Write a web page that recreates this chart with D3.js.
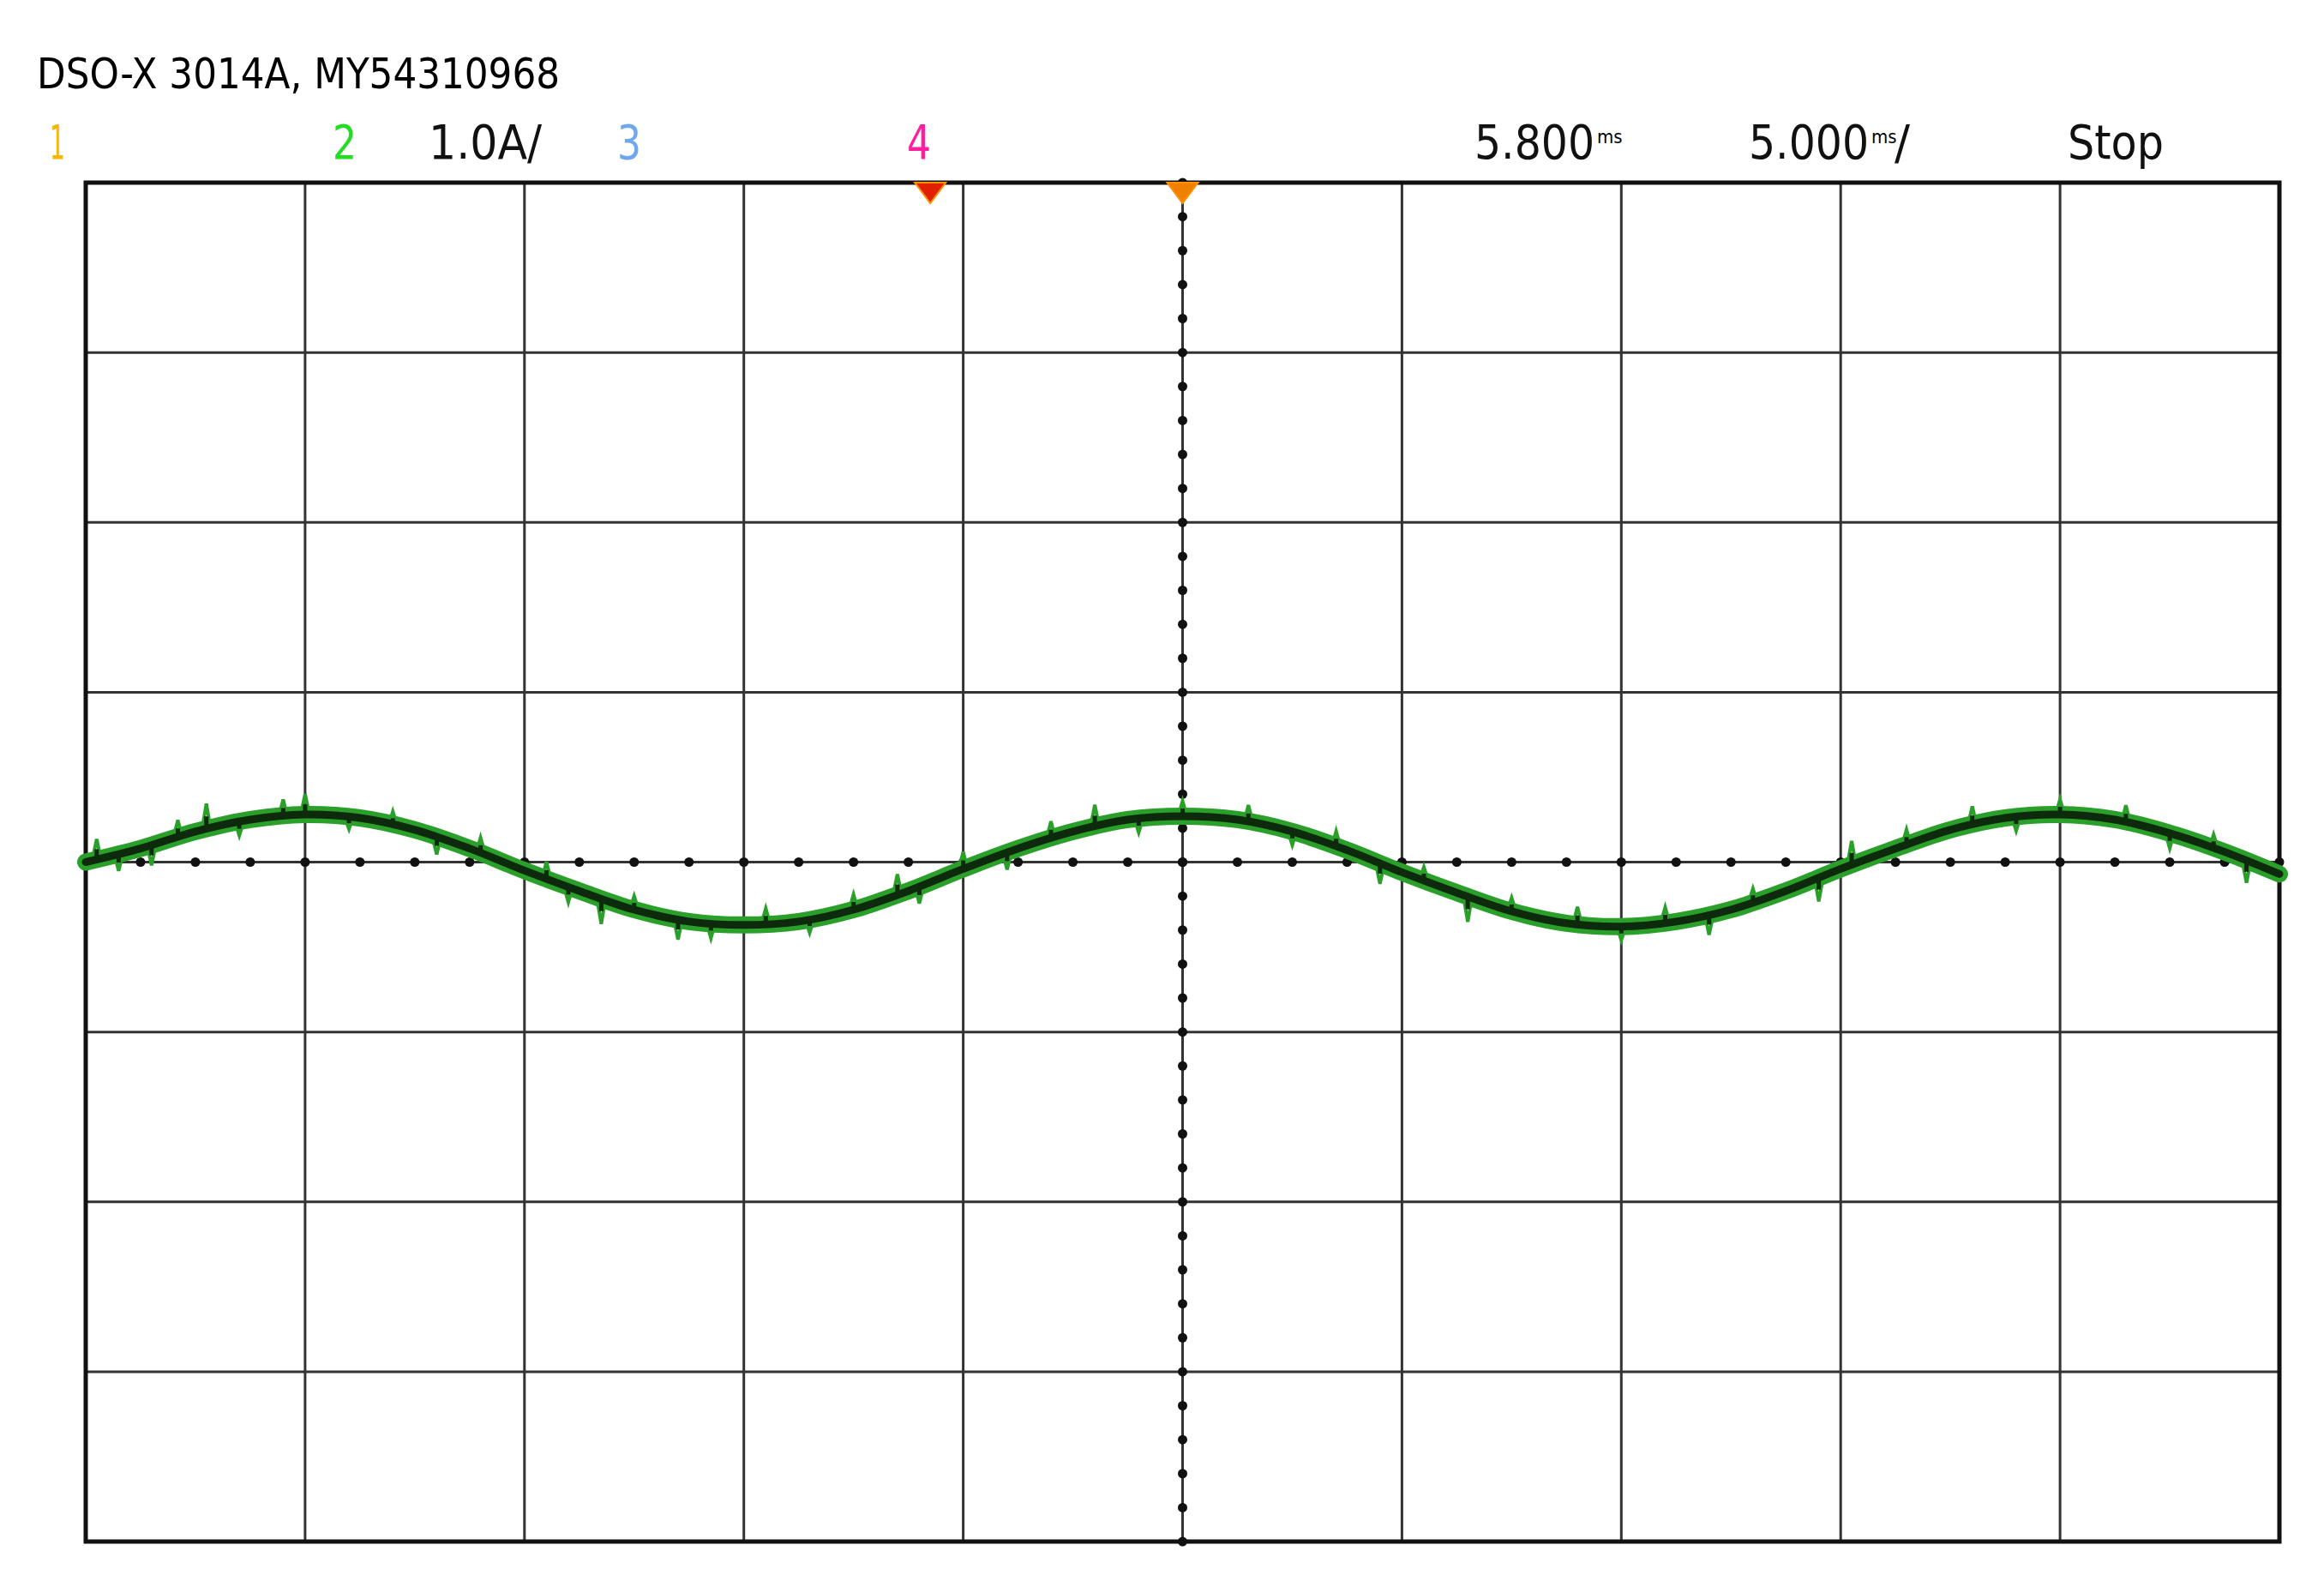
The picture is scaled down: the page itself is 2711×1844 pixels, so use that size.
<!DOCTYPE html>
<html lang="en">
<head>
<meta charset="UTF-8">
<title>DSO-X 3014A</title>
<script src="https://d3js.org/d3.v7.min.js"></script>
<style>
  body { margin: 0; background: #fff; }
  text { font-family: "Liberation Sans Narrow", "DejaVu Sans Condensed", "Liberation Sans", sans-serif; }
</style>
</head>
<body>
<svg id="scope" width="2711" height="1844"></svg>
<script>
// trace samples, channel 2 (A), one every 0.25 division
const traceX = d3.range(0, 10.01, 0.25);
const traceY = [0.0, 0.08, 0.18, 0.25, 0.28, 0.26, 0.19, 0.08, -0.05, -0.17, -0.28, -0.35, -0.37,
                -0.35, -0.28, -0.17, -0.04, 0.08, 0.18, 0.25, 0.27, 0.25, 0.18, 0.07, -0.06,
                -0.18, -0.29, -0.36, -0.38, -0.35, -0.28, -0.17, -0.04, 0.08, 0.19, 0.26, 0.28,
                0.25, 0.17, 0.06, -0.07];
// noise spikes on the trace: [division, offset A]
const spikes = [[0.05, 0.12], [0.15, -0.1], [0.3, -0.12], [0.42, 0.1], [0.55, 0.15], [0.7, -0.08], [0.9, 0.1],
                [1.0, 0.12], [1.2, -0.07], [1.4, 0.08], [1.6, -0.1], [1.8, 0.09], [2.1, 0.1], [2.2, -0.09],
                [2.35, -0.15], [2.5, 0.08], [2.7, -0.12], [2.85, -0.09], [3.1, 0.09], [3.3, -0.08],
                [3.5, 0.09], [3.7, 0.12], [3.8, -0.1], [4.0, 0.1], [4.2, -0.1], [4.4, 0.1], [4.6, 0.13],
                [4.8, -0.08], [5.0, 0.09], [5.3, 0.1], [5.5, -0.08], [5.7, 0.09], [5.9, -0.12], [6.1, 0.08],
                [6.3, -0.15], [6.5, 0.08], [6.8, 0.1], [7.0, -0.08], [7.2, 0.09], [7.4, -0.12], [7.6, 0.08],
                [7.9, -0.14], [8.05, 0.14], [8.3, 0.09], [8.6, 0.11], [8.8, -0.08], [9.0, 0.09], [9.3, 0.1],
                [9.5, -0.09], [9.7, 0.08], [9.85, -0.13]];
const headerTitle = "DSO-X 3014A, MY54310968";
const channels = [{label: "1", color: "#f5b800"}, {label: "2", color: "#22dd22"},
                  {label: "3", color: "#6fa8f0"}, {label: "4", color: "#ff1f9e"}];
const markers = [3.85, 5.0];   // trigger / delay markers (division)

const L = 100, R = 2659, T = 213, B = 1798;
const x = d3.scaleLinear().domain([0, 10]).range([L, R]);
const y = d3.scaleLinear().domain([-4, 4]).range([B, T]);   // 1.0 A/div

const svg = d3.select("#scope");

// header
svg.append("text").attr("x", 43).attr("y", 103).attr("font-size", 50)
  .attr("textLength", 610).attr("lengthAdjust", "spacingAndGlyphs").text(headerTitle);
const row = 185;
const put = (xp, t, c, w) => svg.append("text").attr("x", xp).attr("y", row).attr("font-size", 56)
  .attr("fill", c).attr("textLength", w).attr("lengthAdjust", "spacingAndGlyphs").text(t);
put(58, channels[0].label, channels[0].color, 18);
put(388, channels[1].label, channels[1].color, 28);
put(500, "1.0A/", "#111", 132);
put(720, channels[2].label, channels[2].color, 28);
put(1058, channels[3].label, channels[3].color, 28);
put(1720, "5.800", "#111", 140);
svg.append("text").attr("x", 1863).attr("y", row - 18).attr("font-size", 22).text("ms");
put(2040, "5.000", "#111", 140);
svg.append("text").attr("x", 2183).attr("y", row - 18).attr("font-size", 22).text("ms");
put(2210, "/", "#111", 18);
put(2412, "Stop", "#111", 112);

// grid
const g = svg.append("g");
g.selectAll(".v").data(d3.range(1, 10)).join("line")
  .attr("x1", d => x(d)).attr("x2", d => x(d)).attr("y1", T).attr("y2", B)
  .attr("stroke", "#333").attr("stroke-width", 3);
g.selectAll(".h").data(d3.range(-3, 4)).join("line")
  .attr("y1", d => y(d)).attr("y2", d => y(d)).attr("x1", L).attr("x2", R)
  .attr("stroke", "#333").attr("stroke-width", 3);
g.append("rect").attr("x", L).attr("y", T).attr("width", R - L).attr("height", B - T)
  .attr("fill", "none").attr("stroke", "#111").attr("stroke-width", 5);

// minor dots on centre axes
g.selectAll(".dh").data(d3.range(0, 10.001, 0.25)).join("circle")
  .attr("cx", d => x(d)).attr("cy", y(0)).attr("r", 5.5).attr("fill", "#111");
g.selectAll(".dv").data(d3.range(-4, 4.001, 0.2)).join("circle")
  .attr("cx", x(5)).attr("cy", d => y(d)).attr("r", 5.5).attr("fill", "#111");

// markers at top
g.selectAll(".mk").data(markers).join("path")
  .attr("d", d => `M${x(d) - 18},${T} L${x(d) + 18},${T} L${x(d)},${T + 24} Z`)
  .attr("fill", (d, i) => i === 0 ? "#e02000" : "#f08000")
  .attr("stroke", "#ff9000").attr("stroke-width", 2);

// trace
const pts = traceX.map((d, i) => [d, traceY[i]]);
const line = d3.line().x(d => x(d[0])).y(d => y(d[1])).curve(d3.curveCatmullRom);
const tr = svg.append("g");
tr.append("path").attr("d", line(pts)).attr("fill", "none")
  .attr("stroke", "#2aa02a").attr("stroke-width", 20).attr("stroke-linecap", "round");
const interp = d => {
  const i = Math.min(Math.floor(d / 0.25), traceY.length - 2);
  const f = d / 0.25 - i;
  return traceY[i] * (1 - f) + traceY[i + 1] * f;
};
tr.selectAll(".sp").data(spikes).join("path")
  .attr("d", d => {
    const x0 = x(d[0]), y0 = y(interp(d[0]));
    return `M${x0 - 5},${y0} L${x0},${y(interp(d[0]) + d[1])} L${x0 + 5},${y0}`;
  })
  .attr("fill", "none").attr("stroke", "#2aa02a").attr("stroke-width", 4);
tr.selectAll(".sk").data(spikes).join("line")
  .attr("x1", d => x(d[0])).attr("x2", d => x(d[0]))
  .attr("y1", d => y(interp(d[0]))).attr("y2", d => y(interp(d[0]) + d[1] * 0.5))
  .attr("stroke", "#0d2a0d").attr("stroke-width", 5);
tr.append("path").attr("d", line(pts)).attr("fill", "none")
  .attr("stroke", "#0d2a0d").attr("stroke-width", 9).attr("stroke-linecap", "round");
</script>
</body>
</html>
